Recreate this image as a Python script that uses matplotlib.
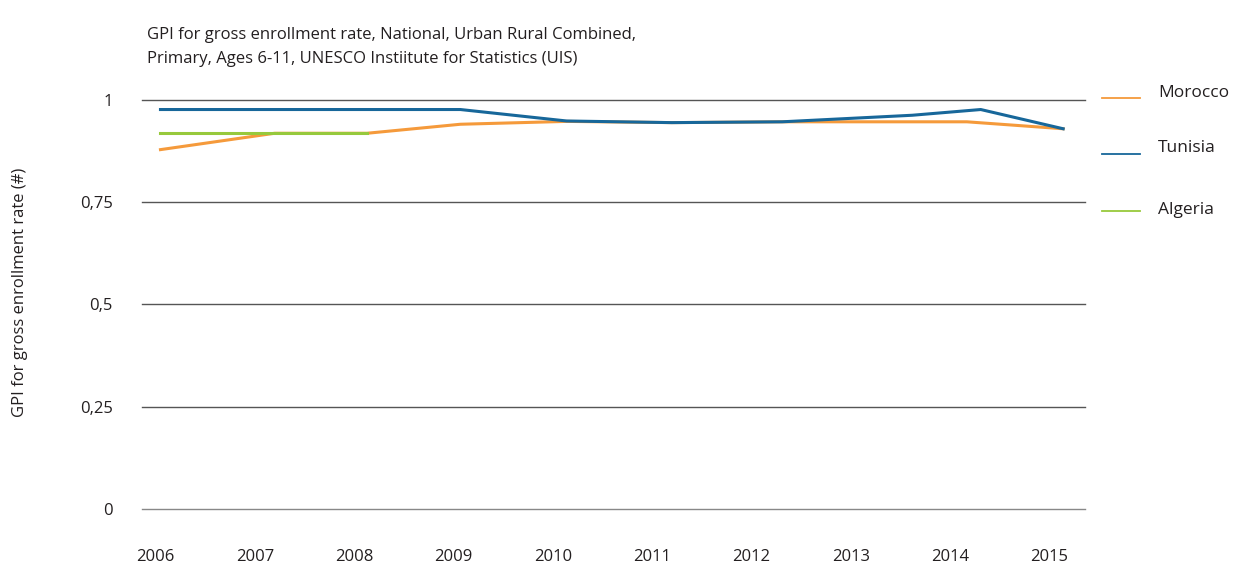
import matplotlib.pyplot as plt
from matplotlib.lines import Line2D

plt.rcParams['font.family'] = ['Open Sans', 'DejaVu Sans']

# data (x = position along the time axis, in years)
years = [2006, 2007, 2008, 2009, 2010, 2011, 2012, 2013, 2014, 2015]
y_ticks = [0, 0.25, 0.5, 0.75, 1]
y_ticklabels = ['0', '0,25', '0,5', '0,75', '1']

morocco_x = [2006.05, 2007.2, 2008.13, 2009.07, 2010.14, 2011.2, 2012.31, 2014.17, 2015.14]
morocco_y = [0.878, 0.918, 0.918, 0.940, 0.947, 0.944, 0.946, 0.946, 0.929]

tunisia_x = [2006.05, 2007.08, 2008.13, 2009.07, 2010.14, 2011.2, 2012.31, 2013.62, 2014.31, 2015.14]
tunisia_y = [0.976, 0.976, 0.976, 0.976, 0.948, 0.944, 0.946, 0.962, 0.976, 0.929]

algeria_x = [2006.05, 2007.08, 2008.13]
algeria_y = [0.918, 0.918, 0.918]

c_mor = '#f59a3b'
c_tun = '#17679a'
c_alg = '#97c93c'
txt = '#231f20'

fig = plt.figure(figsize=(12.33, 5.7), dpi=100)
ax = fig.add_axes([142/1233, 61/570, 943/1233, 409.3/570])

ax.plot(morocco_x, morocco_y, color=c_mor, lw=2.2, clip_on=False, zorder=3)
ax.plot(algeria_x, algeria_y, color=c_alg, lw=2.2, clip_on=False, zorder=4)
ax.plot(tunisia_x, tunisia_y, color=c_tun, lw=2.2, clip_on=False, zorder=5)

ax.set_xlim(2005.864, 2015.36)
ax.set_ylim(0, 1)
ax.set_xticks(years)
ax.set_xticklabels([str(y) for y in years])
ax.set_yticks(y_ticks)
ax.set_yticklabels(y_ticklabels)
ax.grid(axis='y', color='#555555', lw=1)
for gl in ax.get_ygridlines():
    gl.set_clip_on(False)
ax.get_ygridlines()[0].set_color('#888888')
ax.set_axisbelow(True)
for s in ax.spines.values():
    s.set_visible(False)
ax.tick_params(axis='both', length=0, labelsize=12, colors=txt)
ax.tick_params(axis='x', pad=29)
ax.tick_params(axis='y', pad=21)
ax.set_ylabel('GPI for gross enrollment rate (#)', fontsize=12, color=txt)
ax.yaxis.set_label_coords(-(142-28)/943, (509-292)/409.3)

fig.text(147/1233, 1-35/570, 'GPI for gross enrollment rate, National, Urban Rural Combined,',
         fontsize=12, color=txt, va='center')
fig.text(147/1233, 1-59/570, 'Primary, Ages 6-11, UNESCO Instiitute for Statistics (UIS)',
         fontsize=12, color=txt, va='center')

# legend
for name, col, ly, ty in [('Morocco', c_mor, 98, 93), ('Tunisia', c_tun, 154, 148),
                          ('Algeria', c_alg, 211, 210)]:
    fig.add_artist(Line2D([1102/1233, 1140/1233], [1-ly/570, 1-ly/570], color=col, lw=1.3))
    fig.text(1158/1233, 1-ty/570, name, fontsize=12.5, color=txt, va='center')

plt.savefig('out.png', dpi=100)
